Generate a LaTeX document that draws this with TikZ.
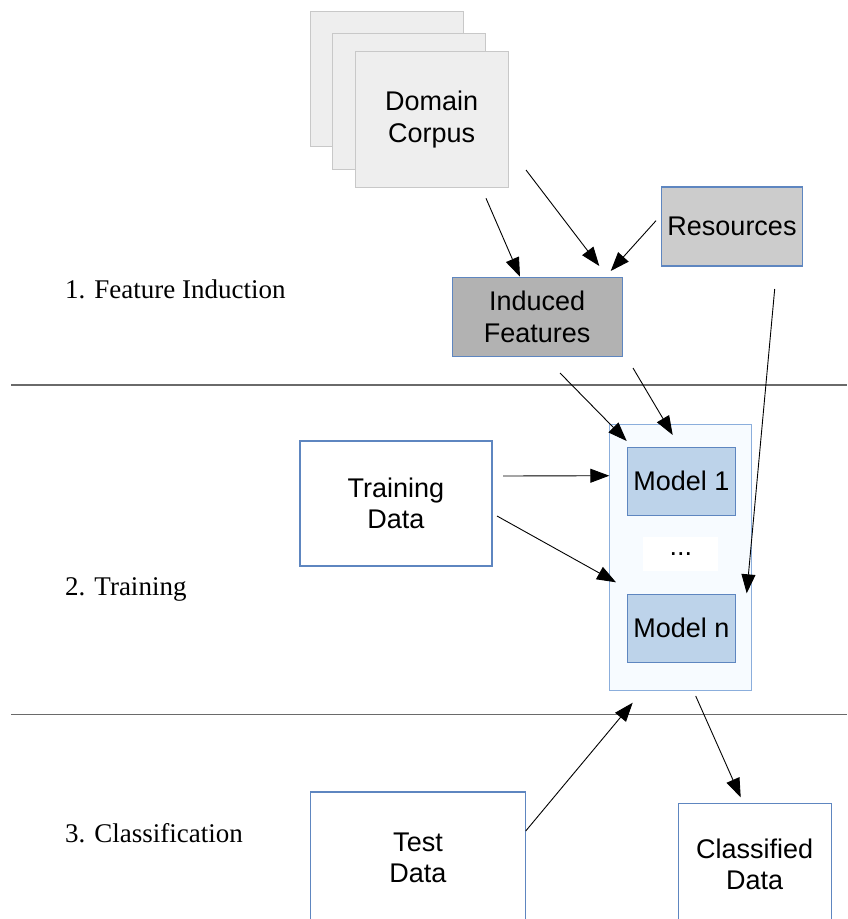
\documentclass[tikz,border=0pt]{standalone}
\usepackage{fontspec}
\setmainfont{Liberation Serif}
\setsansfont{Liberation Sans}
\usetikzlibrary{arrows.meta}
\definecolor{pagefill}{HTML}{EEEEEE}
\definecolor{pageline}{HTML}{C8C8C8}
\definecolor{resfill}{HTML}{CCCCCC}
\definecolor{indfill}{HTML}{B2B2B2}
\definecolor{boxblue}{HTML}{5E86C0}
\definecolor{contfill}{HTML}{F7FBFF}
\definecolor{contline}{HTML}{8BAEDC}
\definecolor{modfill}{HTML}{BDD3EA}
\definecolor{sepline}{HTML}{6A6A6A}
\begin{document}
\begin{tikzpicture}[x=1pt,y=-1pt,
  box/.style={rectangle, inner sep=0pt, align=center, line width=1.1pt,
    font=\sffamily\fontsize{27}{31.5}\selectfont},
  pagebox/.style={box, fill=pagefill, draw=pageline},
  bluebox/.style={box, draw=boxblue},
  stagelabel/.style={anchor=base west, inner sep=0pt, font=\rmfamily\fontsize{27}{32}\selectfont},
  sep/.style={draw=sepline, line width=1.2pt},
  arr/.style={line width=0.9pt, -{Triangle[length=19pt,width=14pt]}}
]
\useasboundingbox (0,0) rectangle (847,919);
\clip (0,0) rectangle (847,919);

% separators
\draw[sep] (11,385) -- (847,385);
\draw[sep] (11,714.5) -- (847,714.5);

% stage labels
\node[stagelabel] (l1) at (65,298) {1. Feature Induction};
\node[stagelabel] (l2) at (65,595) {2. Training};
\node[stagelabel] (l3) at (65,842) {3. Classification};

% domain corpus pages
\node[pagebox, minimum width=153pt, minimum height=135.5pt] (p1) at (386.8,79) {};
\node[pagebox, minimum width=153pt, minimum height=135.5pt] (p2) at (409.2,101.5) {};
\node[pagebox, minimum width=153.3pt, minimum height=135.6pt] (dc) at (431.7,119.5) {Domain\\Corpus};

% resources & induced features
\node[box, fill=resfill, draw=boxblue, minimum width=141.4pt, minimum height=79pt] (res) at (732,226.5) {Resources};
\node[box, fill=indfill, draw=boxblue, minimum width=169.7pt, minimum height=79pt] (ind) at (537.2,316.8) {Induced\\Features};

% model container
\node[box, fill=contfill, draw=contline, minimum width=141.7pt, minimum height=265.7pt] (cont) at (680.2,557.2) {};
\node[box, fill=modfill, draw=boxblue, minimum width=108pt, minimum height=68pt] (m1) at (681.3,481.3) {Model 1};
\node[box, fill=white, draw=none, minimum width=75pt, minimum height=33.7pt] (dots) at (680.8,554.2) {...};
\node[box, fill=modfill, draw=boxblue, minimum width=108pt, minimum height=68.3pt] (mn) at (681.3,628.2) {Model n};

% data boxes
\node[bluebox, fill=white, minimum width=192pt, minimum height=125pt] (train) at (396,503.5) {Training\\Data};
\node[bluebox, fill=white, minimum width=215.5pt, minimum height=132pt] (test) at (418,858) {Test\\Data};
\node[bluebox, fill=white, minimum width=152.7pt, minimum height=122pt] (cls) at (754.7,864.3) {Classified\\Data};

% connector end points
\coordinate (a1s) at (486,198.3);   \coordinate (a1e) at (520,276.7);
\coordinate (a2s) at (526,170);     \coordinate (a2e) at (599.3,266);
\coordinate (a3s) at (656,220.7);   \coordinate (a3e) at (610.7,271);
\coordinate (a4s) at (774.7,289);   \coordinate (a4e) at (746.7,593.3);
\coordinate (a5s) at (560,373);     \coordinate (a5e) at (626.7,441);
\coordinate (a6s) at (633,368);     \coordinate (a6e) at (672.7,435);
\coordinate (a7s) at (503,476);     \coordinate (a7e) at (609.3,475.7);
\coordinate (a8s) at (497,516);     \coordinate (a8e) at (616,582.3);
\coordinate (a9s) at (525.7,831);   \coordinate (a9e) at (632.7,702.7);
\coordinate (a10s) at (695.7,696);  \coordinate (a10e) at (740.7,797.3);

\draw[arr] (a1s) -- (a1e);
\draw[arr] (a2s) -- (a2e);
\draw[arr] (a3s) -- (a3e);
\draw[arr] (a4s) -- (a4e);
\draw[arr] (a5s) -- (a5e);
\draw[arr] (a6s) -- (a6e);
\draw[arr] (a7s) -- (a7e);
\draw[arr] (a8s) -- (a8e);
\draw[arr] (a9s) -- (a9e);
\draw[arr] (a10s) -- (a10e);
\end{tikzpicture}
\end{document}
